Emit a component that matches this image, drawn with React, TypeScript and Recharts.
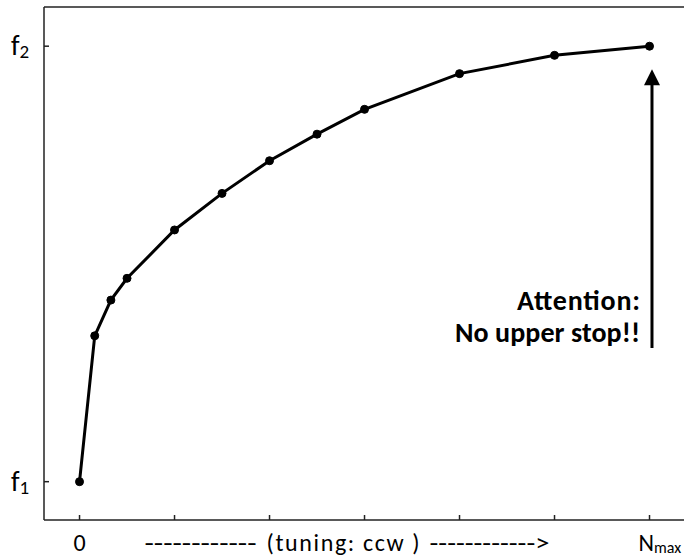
import { LineChart, Line, XAxis, YAxis, ReferenceLine, ReferenceDot } from 'recharts';

// turns of the tuning screw (one tick = one unit) vs. relative frequency (f1 = 0, f2 = 100)
const turns = [0, 0.16, 0.33, 0.5, 1, 1.5, 2, 2.5, 3, 4, 5, 6];
const freq = [0, 33.5, 41.7, 46.7, 57.8, 66.2, 73.7, 79.8, 85.5, 93.7, 97.9, 100];
const xTicks = [0, 1, 2, 3, 4, 5, 6];
const yTicks = [0, 100];

const data = turns.map((t, i) => ({ t, f: freq[i] }));

const X_DOMAIN: [number, number] = [-0.374, 6.363];
const Y_DOMAIN: [number, number] = [-8.8, 109];
const FONT = "Carlito, Lato, 'Open Sans', sans-serif";

const XTick = (props: any) => {
    const { x, y, payload } = props;
    const v = payload.value;
    const base = y + 26;
    if (v === 0) {
        return <text x={x} y={base} textAnchor="middle" fontSize={24} fill="#000" fontFamily={FONT}>0</text>;
    }
    if (v === 3) {
        // the long axis caption sits under the middle tick
        return (
            <g fontSize={24} fill="#000" fontFamily={FONT}>
                <text x={x - 220} y={base} textLength={112} lengthAdjust="spacingAndGlyphs">------------</text>
                <text x={x - 98} y={base} textLength={153} lengthAdjust="spacing">(tuning: ccw )</text>
                <text x={x + 65} y={base} textLength={120} lengthAdjust="spacingAndGlyphs">------------&gt;</text>
            </g>
        );
    }
    if (v === 6) {
        return (
            <text x={x - 11} y={base} fontSize={24} fill="#000" fontFamily={FONT}>
                N<tspan fontSize={16} dy={2}>max</tspan>
            </text>
        );
    }
    return null;
};

const YTick = (props: any) => {
    const { y, payload } = props;
    const sub = payload.value === 0 ? '1' : '2';
    return (
        <text x={11} y={y + 9} fontSize={28} fill="#000" fontFamily={FONT}>
            f<tspan fontSize={19} dy={3}>{sub}</tspan>
        </text>
    );
};

const Arrow = (props: any) => {
    const { x1, y1, x2, y2 } = props;
    return (
        <g>
            <line x1={x1} y1={y1} x2={x2} y2={y2 + 14} stroke="#000" strokeWidth={3} />
            <polygon points={`${x2},${y2} ${x2 - 8},${y2 + 16} ${x2 + 8},${y2 + 16}`} fill="#000" />
        </g>
    );
};

const Note = (props: any) => {
    const { cx, cy } = props;
    return (
        <g fontSize={28} fontWeight="bold" fill="#000" fontFamily={FONT}>
            <text x={cx - 123} y={cy} textLength={123} lengthAdjust="spacing">Attention:</text>
            <text x={cx - 185} y={cy + 32} textLength={185} lengthAdjust="spacing">No upper stop!!</text>
        </g>
    );
};

export default function App() {
    return (
        <div style={{ position: 'absolute', left: 0, top: 0, width: 684, height: 557, background: '#fff', overflow: 'hidden' }}>
            <LineChart width={684} height={557} data={data} margin={{ top: 7, right: 0, bottom: 0, left: 0 }}>
                <XAxis
                    dataKey="t"
                    type="number"
                    domain={X_DOMAIN}
                    allowDataOverflow
                    ticks={xTicks}
                    interval={0}
                    height={37}
                    tickSize={-5}
                    tickMargin={10}
                    stroke="#222"
                    strokeWidth={1.5}
                    tick={<XTick />}
                />
                <YAxis
                    type="number"
                    domain={Y_DOMAIN}
                    allowDataOverflow
                    ticks={yTicks}
                    interval={0}
                    width={44}
                    tickSize={-5}
                    tickMargin={10}
                    stroke="#222"
                    strokeWidth={1.5}
                    tick={<YTick />}
                />
                <ReferenceLine y={Y_DOMAIN[1]} stroke="#222" strokeWidth={1.5} />
                <ReferenceLine
                    segment={[{ x: 6.026, y: 30.7 }, { x: 6.026, y: 94.7 }]}
                    shape={<Arrow />}
                />
                <ReferenceDot x={5.9} y={39.4} r={0} shape={<Note />} />
                <Line
                    dataKey="f"
                    stroke="#000"
                    strokeWidth={3}
                    dot={{ r: 4, fill: '#000', stroke: '#000', strokeWidth: 1 }}
                    isAnimationActive={false}
                />
            </LineChart>
        </div>
    );
}
